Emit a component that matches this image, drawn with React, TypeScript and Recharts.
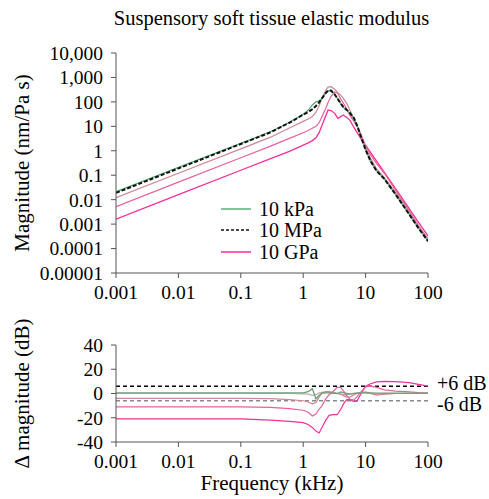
import React from 'react';
import { LineChart, Line, XAxis, YAxis, ReferenceLine, Legend } from 'recharts';

const FONT = '"Liberation Serif", "Times New Roman", serif';

// colours per modulus
const GREEN = '#5aae78';
const BLACK = '#111111';
const GREY_PINK = '#c7aab3';
const MAUVE = '#cc8796';
const MID_PINK = '#e8619e';
const HOT_PINK = '#f92d9c';

// top panel: magnitude (nm/Pa s)
const freqTop = [0.001, 0.01, 0.1, 0.3, 0.6, 1, 1.2, 1.4, 1.6, 1.8, 2, 2.3, 2.5, 2.8, 3.2, 3.6, 4, 4.4, 5, 5.6, 6.5, 7.5, 8.5, 10, 12, 15, 20, 30, 50, 70, 100];
const mag10kPa = [0.021, 0.21, 2.0, 6.0, 14.5, 31, 45, 75, 100, 110, 140, 230, 290, 285, 200, 130, 85, 60, 46, 34, 21, 9, 3.5, 1.1, 0.37, 0.15, 0.07, 0.017, 0.0025, 0.0007, 0.0002];
const mag10MPa = [0.019, 0.19, 1.9, 5.7, 14, 30, 38, 50, 68, 95, 140, 230, 290, 290, 200, 130, 85, 62, 47, 35, 22, 9, 3.5, 1.1, 0.38, 0.15, 0.07, 0.017, 0.0025, 0.0007, 0.0002];
const mag100MPa = [0.012, 0.12, 1.2, 3.6, 8.5, 16, 20, 25, 38, 70, 140, 300, 400, 420, 330, 240, 190, 140, 85, 45, 20, 9, 4, 1.4, 0.5, 0.18, 0.08, 0.02, 0.003, 0.0008, 0.00023];
const mag1GPa = [0.0052, 0.052, 0.52, 1.55, 3.2, 5.5, 6.8, 8.3, 10, 14, 25, 55, 95, 170, 255, 220, 130, 90, 50, 28, 16, 9, 4.5, 1.6, 0.7, 0.3, 0.12, 0.025, 0.0035, 0.0009, 0.00025];
const mag10GPa = [0.0016, 0.016, 0.16, 0.48, 0.95, 1.7, 2.1, 2.6, 3.4, 5.5, 11, 27, 47, 44, 34, 21, 25, 29, 23, 18, 9, 5, 3, 1.7, 0.86, 0.38, 0.13, 0.029, 0.0043, 0.0012, 0.00033];

// bottom panel: delta magnitude (dB)
const freqBottom = [0.001, 0.01, 0.1, 0.3, 0.6, 1, 1.2, 1.4, 1.6, 1.8, 2, 2.3, 2.6, 3, 3.5, 4, 4.5, 5, 5.6, 6.4, 7.2, 8.5, 10, 12, 15, 20, 30, 50, 70, 100];
const db10kPa = [0.5, 0.5, 0.5, 0.5, 0.5, 0.5, 1.5, 4, -4.5, -1.5, 0.3, 0.5, 0.5, 0.3, 0, 1.3, 0.5, 0, -0.5, 0, 0.3, 0.5, 0.5, 0.5, 0.3, 0.3, 0.3, 0.3, 0.3, 0.3];
const db1MPa = [0, 0, 0, 0, 0, -0.3, -0.5, -1.5, -1, 0.5, 1, 1.5, 1, 0.5, 0, -0.5, -1, -1, -0.5, 0, 0.3, 0.5, 0.5, 0, -0.5, -0.3, 0, 0, 0, 0];
const db100MPa = [-4, -4, -4, -4.3, -5, -6, -7, -8.5, -7.5, -3, 0, 1.5, 1.5, 1, 0, -0.5, -2, -3, -3, -1.5, 0, 0.8, 1.3, 0, -1.4, -0.5, 0, 0, 0, 0];
const db1GPa = [-11, -11, -11, -11.5, -12.5, -13.8, -15.5, -18.5, -17, -13, -10, -4.5, -1, 1.5, 5, 5, 1.5, -2, -4.5, -5.5, -3, 1.5, 5.5, 6, 5, 3, 2, 1.3, 0.8, 0.5];
const db10GPa = [-21, -21, -21, -22, -23, -24, -25.5, -28, -31, -32.5, -28, -22, -18, -17.5, -17.5, -13, -8, -5, -5, -6.5, -6.5, 0, 6, 8, 9.6, 10, 9.8, 9, 7.5, 6];

const freqTicks = [0.001, 0.01, 0.1, 1, 10, 100];
const magTicks = [10000, 1000, 100, 10, 1, 0.1, 0.01, 0.001, 0.0001, 0.00001];
const magTickLabels = ['10,000', '1,000', '100', '10', '1', '0.1', '0.01', '0.001', '0.0001', '0.00001'];
const dbTicks = [40, 20, 0, -20, -40];

const legendItems = [
  { name: '10 kPa', color: GREEN, dash: undefined },
  { name: '10 MPa', color: BLACK, dash: '3 2' },
  { name: '10 GPa', color: HOT_PINK, dash: undefined },
];

const topData = freqTop.map((f, i) => ({
  f,
  kPa10: mag10kPa[i],
  MPa10: mag10MPa[i],
  MPa100: mag100MPa[i],
  GPa1: mag1GPa[i],
  GPa10: mag10GPa[i],
}));

const bottomData = freqBottom.map((f, i) => ({
  f,
  kPa10: db10kPa[i],
  MPa1: db1MPa[i],
  MPa100: db100MPa[i],
  GPa1: db1GPa[i],
  GPa10: db10GPa[i],
}));

const tickStyle = { fill: '#000', fontSize: 19.5, fontFamily: FONT };
const AXIS = '#555';

function SideTitle(props: any) {
  const { viewBox, caption, atX } = props;
  const cy = viewBox.y + viewBox.height / 2;
  return (
    <text
      x={atX}
      y={cy}
      transform={`rotate(-90, ${atX}, ${cy})`}
      textAnchor="middle"
      dominantBaseline="central"
      fontSize={21}
      fontFamily={FONT}
      fill="#000"
    >
      {caption}
    </text>
  );
}

function BottomTitle(props: any) {
  const { viewBox, caption } = props;
  return (
    <text x={viewBox.x + viewBox.width / 2} y={viewBox.y + 48} textAnchor="middle" fontSize={21} fontFamily={FONT} fill="#000">
      {caption}
    </text>
  );
}

function RefTag(props: any) {
  const { viewBox, caption, shift } = props;
  return (
    <text x={viewBox.x + viewBox.width + 9} y={viewBox.y + shift} dominantBaseline="central" fontSize={20} fontFamily={FONT} fill="#000">
      {caption}
    </text>
  );
}

const renderLegend = () => (
  <div style={{ fontFamily: FONT, fontSize: 20, lineHeight: '20px', color: '#000' }}>
    {legendItems.map((it) => (
      <div key={it.name} style={{ display: 'flex', alignItems: 'center', height: 21.5 }}>
        <svg width={34} height={10}>
          <line x1={2} y1={5} x2={32} y2={5} stroke={it.color} strokeWidth={1.5} strokeDasharray={it.dash} />
        </svg>
        <span style={{ marginLeft: 6 }}>{it.name}</span>
      </div>
    ))}
  </div>
);

export default function App() {
  return (
    <div style={{ position: 'absolute', left: 0, top: 0, width: 489, height: 499, background: '#fff', fontFamily: FONT }}>
      <div style={{ position: 'absolute', left: 271.5, top: 8, transform: 'translateX(-50%)', whiteSpace: 'nowrap', fontSize: 20.5, lineHeight: '20px' }}>
        Suspensory soft tissue elastic modulus
      </div>

      <div style={{ position: 'absolute', left: 0, top: 0 }}>
        <LineChart width={489} height={310} data={topData} margin={{ top: 53, right: 61, bottom: 7, left: 0 }}>
          <XAxis
            dataKey="f"
            type="number"
            scale="log"
            domain={[0.001, 100]}
            ticks={freqTicks}
            tickFormatter={(v) => String(v)}
            tick={tickStyle}
            stroke={AXIS}
            tickSize={5}
            tickMargin={7}
            height={30}
            allowDataOverflow
          />
          <YAxis
            type="number"
            scale="log"
            domain={[0.00001, 10000]}
            ticks={magTicks}
            tickFormatter={(v) => magTickLabels[magTicks.indexOf(v)] ?? String(v)}
            tick={tickStyle}
            stroke={AXIS}
            tickSize={5}
            tickMargin={8}
            width={116}
            interval={0}
            allowDataOverflow
            label={<SideTitle caption="Magnitude (nm/Pa s)" atX={22} />}
          />
          <Legend
            layout="vertical"
            align="center"
            verticalAlign="middle"
            content={renderLegend}
            wrapperStyle={{ left: 219, top: 198, width: 'auto' }}
          />
          <Line dataKey="GPa10" stroke={HOT_PINK} strokeWidth={1.3} dot={false} isAnimationActive={false} legendType="none" />
          <Line dataKey="GPa1" stroke={MID_PINK} strokeWidth={1.2} dot={false} isAnimationActive={false} legendType="none" />
          <Line dataKey="MPa100" stroke={MAUVE} strokeWidth={1.2} dot={false} isAnimationActive={false} legendType="none" />
          <Line dataKey="kPa10" stroke={GREEN} strokeWidth={1.3} dot={false} isAnimationActive={false} legendType="none" />
          <Line dataKey="MPa10" stroke={BLACK} strokeWidth={2} strokeDasharray="4 2" dot={false} isAnimationActive={false} legendType="none" />
        </LineChart>
      </div>

      <div style={{ position: 'absolute', left: 0, top: 310 }}>
        <LineChart width={489} height={189} data={bottomData} margin={{ top: 35, right: 61, bottom: 7, left: 0 }}>
          <XAxis
            dataKey="f"
            type="number"
            scale="log"
            domain={[0.001, 100]}
            ticks={freqTicks}
            tickFormatter={(v) => String(v)}
            tick={tickStyle}
            stroke={AXIS}
            tickSize={5}
            tickMargin={7}
            height={50}
            allowDataOverflow
            label={<BottomTitle caption="Frequency (kHz)" />}
          />
          <YAxis
            type="number"
            domain={[-40, 40]}
            ticks={dbTicks}
            tick={tickStyle}
            stroke={AXIS}
            tickSize={5}
            tickMargin={8}
            width={116}
            interval={0}
            label={<SideTitle caption="Δ magnitude (dB)" atX={22} />}
          />
          <ReferenceLine y={6} stroke="#000" strokeWidth={1.5} strokeDasharray="4 3" label={<RefTag caption="+6 dB" shift={-3} />} />
          <ReferenceLine y={-6} stroke="#8a8a8a" strokeWidth={1.5} strokeDasharray="4 3" label={<RefTag caption="-6 dB" shift={3} />} />
          <Line dataKey="MPa1" stroke={GREY_PINK} strokeWidth={1.2} dot={false} isAnimationActive={false} />
          <Line dataKey="GPa10" stroke={HOT_PINK} strokeWidth={1.2} dot={false} isAnimationActive={false} />
          <Line dataKey="GPa1" stroke={MID_PINK} strokeWidth={1.2} dot={false} isAnimationActive={false} />
          <Line dataKey="MPa100" stroke={MAUVE} strokeWidth={1.2} dot={false} isAnimationActive={false} />
          <Line dataKey="kPa10" stroke="#6a9f78" strokeWidth={1.3} dot={false} isAnimationActive={false} />
        </LineChart>
      </div>
    </div>
  );
}
